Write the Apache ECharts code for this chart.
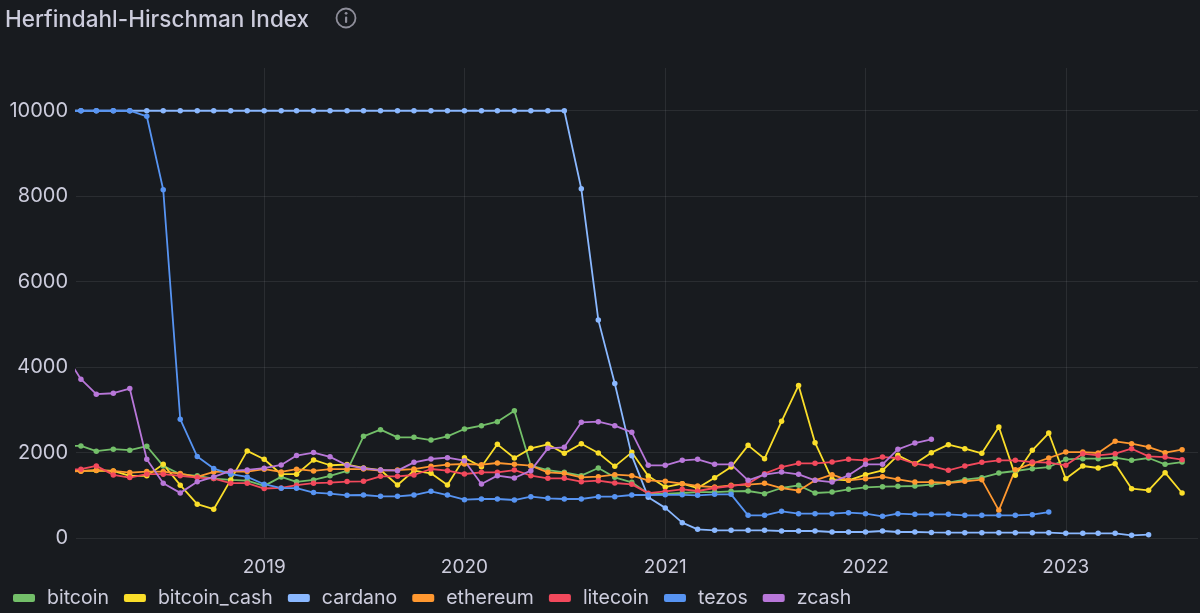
<!DOCTYPE html>
<html><head><meta charset="utf-8">
<script src="https://cdn.jsdelivr.net/npm/echarts@6/dist/echarts.min.js"></script>
<style>html,body{margin:0;padding:0;background:#181b1f;}#c{width:1200px;height:613px;}</style>
</head><body><div id="c"></div>
<script>
// Months 2018-01 .. 2023-08 (68 monthly points)
const months = [];
for (let i = 0; i < 68; i++) {
  const y = 2018 + Math.floor(i / 12), mo = i % 12 + 1;
  months.push(y + '-' + String(mo).padStart(2, '0') + '-01');
}
const seriesNames = ['bitcoin','bitcoin_cash','cardano','ethereum','litecoin','tezos','zcash'];
const yTicks = [0, 2000, 4000, 6000, 8000, 10000];
const xYears = ['2019','2020','2021','2022','2023'];

const bitcoin = [2150,2156,2031,2078,2055,2148,1688,1493,1454,1392,1360,1345,1220,1430,1314,1360,1454,1571,2379,2535,2356,2356,2293,2379,2551,2629,2722,2980,1693,1591,1537,1459,1638,1420,1303,1037,1030,1053,1076,1076,1092,1100,1037,1170,1232,1053,1076,1139,1186,1201,1209,1217,1248,1295,1365,1412,1521,1568,1622,1661,1841,1856,1856,1880,1817,1872,1724,1778];
const bitcoin_cash = [1570,1570,1580,1571,1454,1454,1727,1236,791,674,1360,2039,1844,1493,1493,1828,1703,1719,1640,1591,1240,1576,1513,1240,1880,1669,2192,1872,2098,2192,1981,2207,1989,1677,2005,1451,1193,1271,1170,1412,1661,2168,1856,2730,3572,2231,1373,1349,1482,1583,1934,1739,1997,2184,2090,1981,2597,1466,2051,2457,1388,1685,1638,1739,1154,1115,1529,1053];
const cardano = [10000,10000,10000,10000,10000,10000,10000,10000,10000,10000,10000,10000,10000,10000,10000,10000,10000,10000,10000,10000,10000,10000,10000,10000,10000,10000,10000,10000,10000,10000,10000,8173,5105,3615,1927,955,705,359,203,179,179,179,179,164,164,164,140,140,140,164,140,140,130,125,125,125,125,125,125,125,109,109,109,109,62,78,null,null];
const ethereum = [1560,1563,1587,1571,1532,1555,1555,1508,1430,1547,1555,1555,1610,1547,1610,1571,1610,1610,1614,1576,1591,1614,1677,1716,1732,1716,1755,1724,1693,1537,1513,1420,1435,1482,1459,1349,1326,1271,1217,1193,1232,1248,1279,1170,1108,1349,1482,1349,1388,1435,1373,1310,1310,1287,1326,1365,647,1599,1739,1872,2012,2012,1989,2262,2207,2129,1997,2067];
const litecoin = [1600,1610,1688,1477,1415,1493,1493,1454,1415,1392,1282,1282,1158,1173,1236,1282,1298,1321,1326,1443,1443,1474,1615,1576,1498,1537,1537,1591,1459,1396,1396,1318,1342,1287,1256,1050,1090,1139,1100,1170,1217,1271,1505,1661,1747,1747,1778,1841,1817,1895,1872,1739,1685,1583,1685,1771,1817,1817,1778,1763,1700,1973,1934,1973,2090,1911,1895,1833];
const tezos = [10000,10000,10000,10000,10000,9870,8150,2780,1906,1626,1493,1430,1259,1165,1165,1064,1040,1000,1006,975,975,1006,1092,1006,897,913,913,889,967,928,913,913,967,967,1006,1006,1010,1010,998,1022,1022,530,530,624,569,569,569,593,569,507,569,554,554,554,530,530,530,530,546,608,null,null,null,null,null,null,null,null];
const zcash = [4340,3716,3365,3388,3498,1844,1282,1056,1314,1430,1571,1594,1633,1711,1930,2000,1899,1703,1630,1591,1576,1771,1849,1880,1810,1264,1459,1404,1576,2098,2122,2707,2722,2629,2473,1700,1700,1817,1841,1724,1724,1349,1482,1544,1490,1349,1310,1466,1724,1724,2075,2223,2309,null,null,null,null,null,null,null,null,null,null,null,null,null,null,null];

const colors = ['#73BF69','#FADE2A','#8AB8FF','#FF9830','#F2495C','#5794F2','#B877D9'];
const values = [bitcoin, bitcoin_cash, cardano, ethereum, litecoin, tezos, zcash];

function toUTC(s){ const p = s.split('-'); return Date.UTC(+p[0], +p[1]-1, +p[2]); }

const chart = echarts.init(document.getElementById('c'), null, {renderer: 'canvas'});
const font = 'Inter, "Noto Sans", sans-serif';
const option = {
  backgroundColor: '#181b1f',
  animation: false,
  useUTC: true,
  textStyle: {fontFamily: font},
  title: {
    text: 'Herfindahl-Hirschman Index',
    left: 0, top: 4,
    textStyle: {color: '#ccccdc', fontSize: 22.5, fontWeight: 500, fontFamily: font}
  },
  graphic: [
    {type: 'circle', shape: {cx: 346, cy: 18, r: 9.5}, style: {fill: 'none', stroke: '#8e8e9a', lineWidth: 1.8}},
    {type: 'rect', shape: {x: 345, y: 16.5, width: 2.2, height: 6.5, r: 1}, style: {fill: '#8e8e9a'}},
    {type: 'circle', shape: {cx: 346.1, cy: 13.3, r: 1.4}, style: {fill: '#8e8e9a'}}
  ],
  legend: {
    left: 8, top: 583,
    icon: 'roundRect', itemWidth: 22, itemHeight: 8, itemGap: 15,
    textStyle: {color: '#ccccdc', fontSize: 19.5, fontFamily: font, padding: [0,0,0,7]},
    data: seriesNames
  },
  grid: {left: 76, right: 2, top: 68, bottom: 75, containLabel: false},
  xAxis: {
    type: 'time',
    min: Date.UTC(2018, 0, 23),
    max: Date.UTC(2023, 7, 30),
    minInterval: 365 * 86400000,
    axisLine: {show: false},
    axisTick: {show: false},
    axisLabel: {
      color: '#ccccdc', fontSize: 19, fontFamily: font, margin: 20,
      showMinLabel: false, showMaxLabel: false,
      formatter: function (v) { const y = String(new Date(v).getUTCFullYear()); return xYears.indexOf(y) >= 0 ? y : ''; }
    },
    splitLine: {show: true, showMinLine: false, showMaxLine: false, lineStyle: {color: 'rgba(204,204,220,0.1)', width: 1}}
  },
  yAxis: {
    type: 'value', min: 0, max: 11000, interval: 2000,
    axisLine: {show: false},
    axisTick: {show: false},
    axisLabel: {
      color: '#ccccdc', fontSize: 20, fontFamily: font, margin: 8,
      showMaxLabel: false,
      formatter: function (v) { return yTicks.indexOf(v) >= 0 ? String(v) : ''; }
    },
    splitLine: {show: true, showMaxLine: false, lineStyle: {color: 'rgba(204,204,220,0.1)', width: 1}}
  },
  series: seriesNames.map(function (name, i) {
    return {
      name: name, type: 'line',
      data: months.map(function (m, k) { return [toUTC(m), values[i][k]]; }),
      color: colors[i],
      showSymbol: true, symbol: 'circle', symbolSize: 5.5,
      lineStyle: {width: 1.8, color: colors[i]},
      itemStyle: {color: colors[i]},
      connectNulls: false,
      clip: true,
      emphasis: {disabled: true}
    };
  })
};
chart.setOption(option);
</script>
</body></html>
